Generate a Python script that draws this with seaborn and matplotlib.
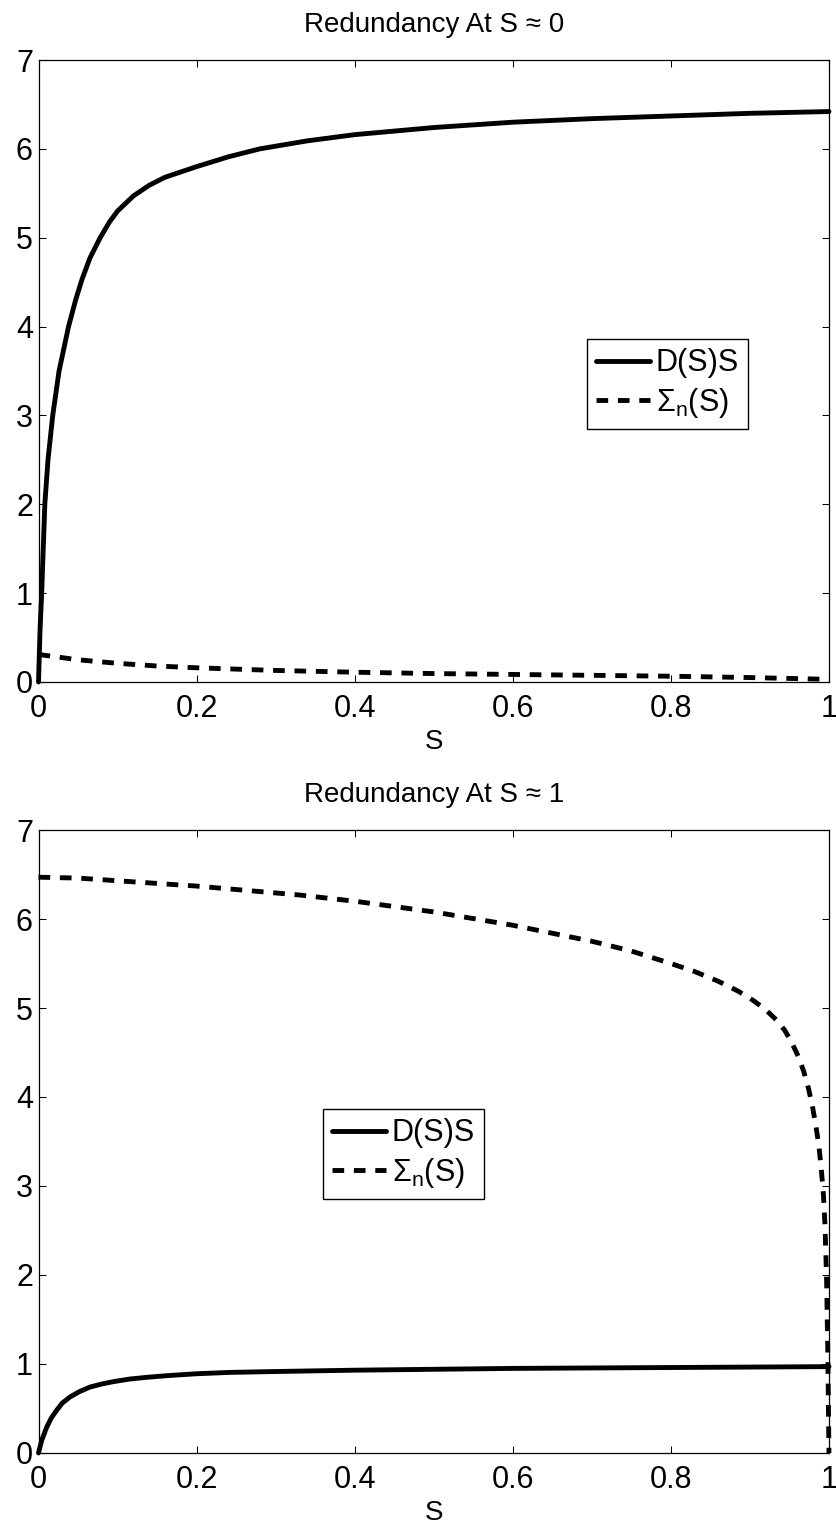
import numpy as np
import matplotlib
matplotlib.use("Agg")
import matplotlib.pyplot as plt
import seaborn as sns

# top panel: redundancy at S ~ 0
s_top_solid = [0, 0.001, 0.002, 0.004, 0.006, 0.008, 0.012, 0.018, 0.026, 0.038, 0.047, 0.055,
               0.065, 0.078, 0.09, 0.1, 0.12, 0.14, 0.16, 0.2, 0.24, 0.28, 0.34, 0.4, 0.5,
               0.6, 0.7, 0.8, 0.9, 1.0]
d_top_solid = [0, 0.3, 0.6, 1.0, 1.5, 2.0, 2.5, 3.0, 3.5, 4.0, 4.3, 4.53,
               4.77, 5.0, 5.18, 5.30, 5.47, 5.59, 5.68, 5.80, 5.91, 6.0, 6.09, 6.16, 6.24,
               6.3, 6.34, 6.37, 6.40, 6.42]
s_top_dash = [0, 0.05, 0.1, 0.15, 0.2, 0.3, 0.4, 0.5, 0.6, 0.7, 0.8, 0.9, 1.0]
d_top_dash = [0.31, 0.25, 0.21, 0.18, 0.16, 0.13, 0.11, 0.095, 0.085, 0.075, 0.065, 0.05, 0.03]

# bottom panel: redundancy at S ~ 1
s_bot_solid = [0, 0.004, 0.0104, 0.016, 0.023, 0.03, 0.04, 0.052, 0.065, 0.08, 0.094, 0.115,
               0.137, 0.165, 0.2, 0.242, 0.3, 0.4, 0.5, 0.6, 0.7, 0.8, 0.9, 1.0]
d_bot_solid = [0, 0.14, 0.29, 0.39, 0.48, 0.56, 0.63, 0.69, 0.74, 0.775, 0.80, 0.83,
               0.85, 0.87, 0.89, 0.905, 0.915, 0.93, 0.94, 0.95, 0.955, 0.96, 0.965, 0.97]
s_bot_dash = [0, 0.05, 0.1, 0.2, 0.33, 0.4, 0.5, 0.6, 0.7, 0.75, 0.8, 0.83, 0.86, 0.885,
              0.905, 0.92, 0.933, 0.944, 0.953, 0.961, 0.968, 0.974, 0.979, 0.983, 0.987,
              0.990, 0.993, 0.995, 0.997, 0.9985, 1.0]
d_bot_dash = [6.47, 6.46, 6.43, 6.37, 6.27, 6.2, 6.08, 5.93, 5.75, 5.64, 5.50, 5.41, 5.30, 5.19,
              5.08, 4.98, 4.87, 4.75, 4.61, 4.46, 4.29, 4.10, 3.90, 3.70, 3.47,
              3.22, 2.90, 2.55, 1.95, 1.15, 0]

titles = ["Redundancy At S \u2248 0", "Redundancy At S \u2248 1"]
labels = ["D(S)S", r"$\mathregular{\Sigma_n}$(S)"]
xticks = [0, 0.2, 0.4, 0.6, 0.8, 1]
yticks = [0, 1, 2, 3, 4, 5, 6, 7]

sns.set_style("ticks")
plt.rcParams["font.family"] = ["Liberation Sans", "DejaVu Sans"]
plt.rcParams["mathtext.fontset"] = "custom"
plt.rcParams["mathtext.rm"] = "Liberation Sans"
plt.rcParams["mathtext.it"] = "Liberation Sans"
plt.rcParams["text.color"] = "black"
plt.rcParams["axes.labelcolor"] = "black"
plt.rcParams["xtick.color"] = "black"
plt.rcParams["ytick.color"] = "black"

fig = plt.figure(figsize=(8.37, 15.23), dpi=100)
ax1 = fig.add_axes([0.046, 0.5522, 0.9444, 0.4084])
ax2 = fig.add_axes([0.046, 0.046, 0.9444, 0.4090])

panels = [
    (ax1, s_top_solid, d_top_solid, s_top_dash, d_top_dash, (0.694, 0.551)),
    (ax2, s_bot_solid, d_bot_solid, s_bot_dash, d_bot_dash, (0.360, 0.552)),
]

for i, (ax, xs, ys, xd, yd, anchor) in enumerate(panels):
    sns.lineplot(x=xs, y=ys, ax=ax, color="black", linewidth=3.5,
                 label=labels[0], clip_on=False)
    sns.lineplot(x=xd, y=yd, ax=ax, color="black", linewidth=3.5,
                 linestyle=(0, (2.4, 2.0)), label=labels[1], clip_on=False)
    ax.set_xlim(0, 1)
    ax.set_ylim(0, 7)
    ax.set_xticks(xticks)
    ax.set_xticklabels(["0", "0.2", "0.4", "0.6", "0.8", "1"])
    ax.set_yticks(yticks)
    ax.tick_params(direction="in", length=5, width=0.75, labelsize=22,
                   top=True, right=True, pad=4)
    ax.tick_params(axis="x", pad=9)
    for sp in ax.spines.values():
        sp.set_visible(True)
        sp.set_linewidth(0.9)
        sp.set_color("black")
    ax.set_title(titles[i], fontsize=20, pad=20)
    ax.set_xlabel("S", fontsize=20, labelpad=3)
    leg = ax.legend(loc="upper left", bbox_to_anchor=anchor, borderaxespad=0,
                    fontsize=22, frameon=True, fancybox=False, framealpha=1,
                    edgecolor="black", handlelength=1.75, handletextpad=0.2,
                    borderpad=0.3, labelspacing=0.25)
    leg.get_frame().set_linewidth(1.0)

fig.savefig("out.png", dpi=100)
